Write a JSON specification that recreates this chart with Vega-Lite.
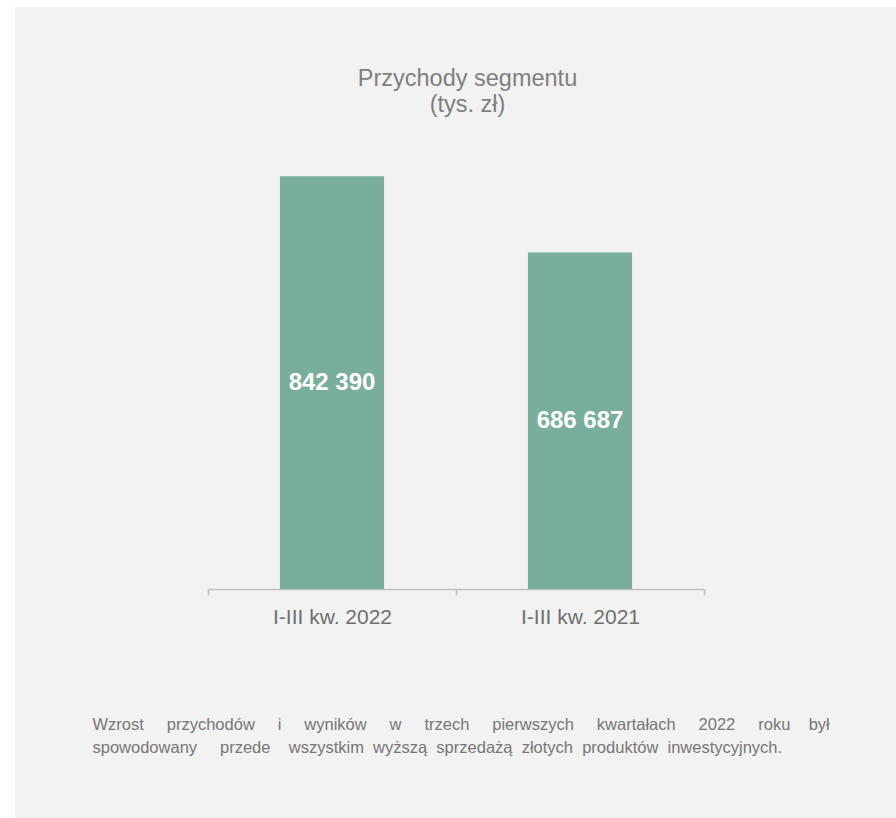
{
  "$schema": "https://vega.github.io/schema/vega-lite/v6.json",
  "width": 881,
  "height": 811,
  "autosize": {"type": "none"},
  "padding": {"left": 15, "top": 7, "right": 0, "bottom": 0},
  "background": "#ffffff",
  "title": {
    "text": ["Przychody segmentu", "(tys. zł)"],
    "font": "Liberation Sans",
    "fontSize": 23.5,
    "fontWeight": "normal",
    "color": "#7f7f7f",
    "lineHeight": 26,
    "anchor": "middle",
    "frame": "group",
    "offset": -109,
    "dx": 12
  },
  "data": {
    "values": [
      {"okres": "I-III kw. 2022", "przychody": 842390, "etykieta": "842 390"},
      {"okres": "I-III kw. 2021", "przychody": 686687, "etykieta": "686 687"}
    ]
  },
  "encoding": {
    "x": {
      "field": "okres",
      "type": "nominal",
      "sort": null,
      "scale": {"range": [193, 689], "paddingInner": 0, "paddingOuter": 0},
      "axis": {
        "title": [
          "Wzrost \u00a0\u00a0\u00a0\u00a0przychodów \u00a0\u00a0\u00a0\u00a0i \u00a0\u00a0\u00a0\u00a0wyników \u00a0\u00a0\u00a0\u00a0w \u00a0\u00a0\u00a0\u00a0trzech \u00a0\u00a0\u00a0\u00a0pierwszych \u00a0\u00a0\u00a0\u00a0kwartałach \u00a0\u00a0\u00a0\u00a02022 \u00a0\u00a0\u00a0\u00a0roku \u00a0\u00a0\u00a0był",
          "spowodowany \u00a0\u00a0\u00a0\u00a0przede \u00a0\u00a0\u00a0wszystkim \u00a0wyższą \u00a0sprzedażą \u00a0złotych \u00a0produktów \u00a0inwestycyjnych."
        ],
        "titleX": 77,
        "titleY": 140,
        "titleAnchor": "start",
        "titleAlign": "left",
        "titleBaseline": "alphabetic",
        "titleFont": "Liberation Sans",
        "titleFontSize": 16.5,
        "titleFontWeight": "normal",
        "titleColor": "#767676",
        "titleLineHeight": 23,
        "offset": -229,
        "tickBand": "extent",
        "domainColor": "#bfbfbf",
        "domainWidth": 1.5,
        "tickColor": "#bfbfbf",
        "tickWidth": 1.5,
        "tickSize": 6,
        "labelFont": "Liberation Sans",
        "labelFontSize": 21,
        "labelColor": "#6f6f6f",
        "labelPadding": 11,
        "labelAngle": 0,
        "grid": false
      }
    }
  },
  "layer": [
    {
      "mark": {"type": "bar", "color": "#78ae9b", "width": {"band": 0.42}},
      "encoding": {
        "y": {
          "field": "przychody",
          "type": "quantitative",
          "scale": {"domain": [0, 900000], "range": [582, 141], "nice": false},
          "axis": null
        }
      }
    },
    {
      "mark": {
        "type": "text",
        "color": "#ffffff",
        "font": "Liberation Sans",
        "fontSize": 24,
        "fontWeight": "bold",
        "baseline": "middle",
        "align": "center"
      },
      "encoding": {
        "y": {
          "field": "przychody",
          "type": "quantitative",
          "scale": {"domain": [0, 900000], "range": [582, 361.5], "nice": false},
          "axis": null
        },
        "text": {"field": "etykieta"}
      }
    }
  ],
  "resolve": {"scale": {"y": "independent"}},
  "config": {"view": {"fill": "#f2f2f2", "stroke": null}}
}
